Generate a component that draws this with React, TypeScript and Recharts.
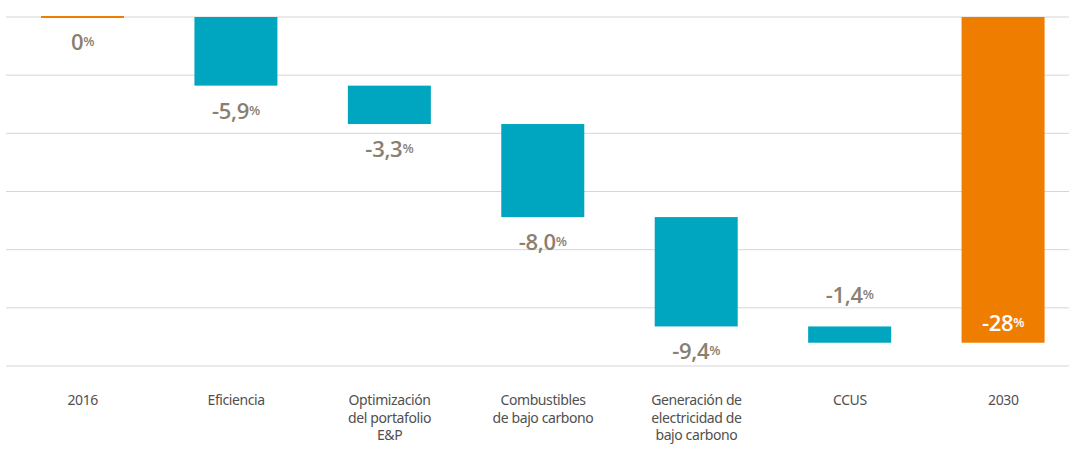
import { Bar, BarChart, CartesianGrid, Cell, XAxis, YAxis } from "recharts";

const categories = [
  "2016",
  "Eficiencia",
  "Optimización\ndel portafolio\nE&P",
  "Combustibles\nde bajo carbono",
  "Generación de\nelectricidad de\nbajo carbono",
  "CCUS",
  "2030",
];

// change per step, in %; first and last are totals
const deltas = [0, -5.9, -3.3, -8.0, -9.4, -1.4];
const total2030 = -28;
const valueLabels = ["0", "-5,9", "-3,3", "-8,0", "-9,4", "-1,4", "-28"];
const labelPlaces = ["below", "below", "below", "below", "below", "above", "inside"];
const yTicks = [-30, -25, -20, -15, -10, -5, 0];

const ORANGE = "#ee7d00";
const TEAL = "#00a5bf";
const LABEL = "#8a8071";

let running = 0;
const data = categories.map((name, i) => {
  if (i === categories.length - 1) {
    return { name, range: [total2030, 0], color: ORANGE };
  }
  const start = running;
  running += deltas[i];
  return {
    name,
    range: [Math.min(start, running), Math.max(start, running)],
    color: i === 0 ? ORANGE : TEAL,
  };
});

function BarShape(props: any) {
  const { x, y, width, height, fill } = props;
  const top = Math.min(y, y + height);
  const h = Math.max(Math.abs(height), 2);
  return <rect x={x} y={top - (Math.abs(height) < 2 ? 1 : 0)} width={width} height={h} fill={fill} />;
}

function ValueLabel(props: any) {
  const { x, y, width, height, index } = props;
  const top = Math.min(y, y + height);
  const bottom = Math.max(y, y + height);
  const place = labelPlaces[index];
  let cy = bottom + 24;
  let color = LABEL;
  if (place === "above") cy = top - 32;
  if (place === "inside") {
    cy = bottom - 21;
    color = "#ffffff";
  }
  return (
    <text
      x={x + width / 2}
      y={cy}
      textAnchor="middle"
      dominantBaseline="central"
      fill={color}
      fontFamily="'Open Sans', sans-serif"
      fontWeight={600}
      letterSpacing={-0.3}
    >
      <tspan fontSize={22}>{valueLabels[index]}</tspan>
      <tspan fontSize={13}>%</tspan>
    </text>
  );
}

function CategoryTick(props: any) {
  const { x, y, payload } = props;
  const lines = String(payload.value).split("\n");
  return (
    <text
      x={x}
      y={y + 31}
      textAnchor="middle"
      fill="#505050"
      fontFamily="'Noto Sans', sans-serif"
      fontSize={14}
      letterSpacing={-0.4}
    >
      {lines.map((line, i) => (
        <tspan key={i} x={x} dy={i === 0 ? 0 : 17.5}>
          {line}
        </tspan>
      ))}
    </text>
  );
}

export default function App() {
  return (
    <div style={{ position: "absolute", left: 0, top: 0, width: 1069, height: 449, overflow: "hidden", background: "#fff" }}>
      <BarChart
        width={1080}
        height={449}
        data={data}
        margin={{ top: 17, right: 0, left: 6, bottom: 0 }}
      >
        <CartesianGrid stroke="#d6d6d6" vertical={false} />
        <XAxis
          dataKey="name"
          axisLine={false}
          tickLine={false}
          height={83}
          interval={0}
          tick={<CategoryTick />}
        />
        <YAxis hide domain={[-30, 0]} ticks={yTicks} />
        <Bar
          dataKey="range"
          barSize={83}
          isAnimationActive={false}
          shape={<BarShape />}
          label={<ValueLabel />}
        >
          {data.map((d, i) => (
            <Cell key={i} fill={d.color} />
          ))}
        </Bar>
      </BarChart>
    </div>
  );
}
